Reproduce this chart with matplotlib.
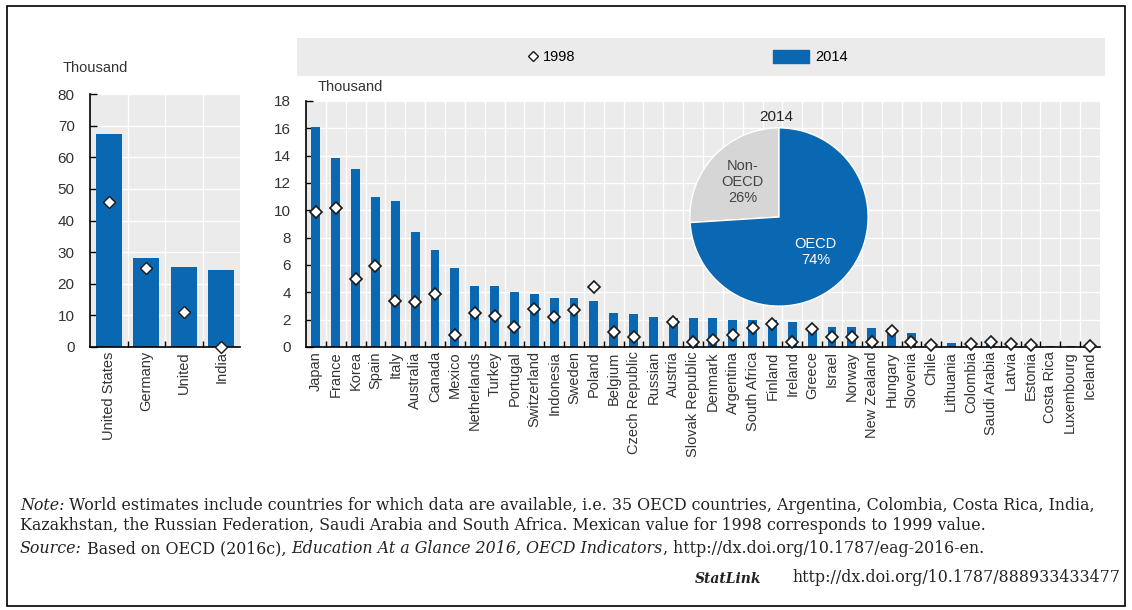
import numpy as np
import matplotlib.pyplot as plt
from matplotlib.patches import Rectangle, Patch
from matplotlib.lines import Line2D
from matplotlib.ticker import MultipleLocator, FixedLocator

# left panel: biggest countries (thousand)
big_countries = ['United States', 'Germany', 'United', 'India']
big_2014 = [67.5, 28.0, 25.2, 24.5]
big_1998 = [46.0, 25.0, 11.0, 0.0]

# right panel
countries = ['Japan', 'France', 'Korea', 'Spain', 'Italy', 'Australia', 'Canada',
             'Mexico', 'Netherlands', 'Turkey', 'Portugal', 'Switzerland',
             'Indonesia', 'Sweden', 'Poland', 'Belgium', 'Czech Republic',
             'Russian', 'Austria', 'Slovak Republic', 'Denmark', 'Argentina',
             'South Africa', 'Finland', 'Ireland', 'Greece', 'Israel', 'Norway',
             'New Zealand', 'Hungary', 'Slovenia', 'Chile', 'Lithuania',
             'Colombia', 'Saudi Arabia', 'Latvia', 'Estonia', 'Costa Rica',
             'Luxembourg', 'Iceland']
val_2014 = [16.1, 13.8, 13.0, 11.0, 10.7, 8.4, 7.1, 5.8, 4.5, 4.5, 4.0, 3.9,
            3.6, 3.6, 3.4, 2.5, 2.4, 2.2, 2.1, 2.1, 2.1, 2.0, 2.0, 1.95, 1.8,
            1.55, 1.5, 1.45, 1.4, 1.4, 1.0, 0.3, 0.3, 0.25, 0.2, 0.15, 0.12,
            0.08, 0.05, 0.04]
val_1998 = [9.9, 10.2, 5.0, 5.9, 3.4, 3.3, 3.9, 0.9, 2.5, 2.3, 1.5, 2.8,
            2.2, 2.7, 4.4, 1.1, 0.7, np.nan, 1.8, 0.4, 0.5, 0.9, 1.4, 1.7, 0.4,
            1.3, 0.7, 0.7, 0.4, 1.2, 0.35, 0.15, np.nan, 0.2, 0.4, 0.25, 0.15,
            np.nan, np.nan, 0.05]

pie_labels = ['Non-\nOECD\n26%', 'OECD\n74%']
pie_share = [26, 74]

blue = '#0a67b2'
bg = '#ebebeb'
W, H = 1132, 610

def box(x0, y0, x1, y1):
    # pixel box (top-left origin) -> figure fraction
    return [x0 / W, (H - y1) / H, (x1 - x0) / W, (y1 - y0) / H]

plt.rcParams['font.family'] = ['Liberation Sans', 'DejaVu Sans']
fig = plt.figure(figsize=(W / 100, H / 100), dpi=100)

def style_axes(ax, n, ymax, ystep):
    ax.set_facecolor(bg)
    ax.set_xlim(-0.5, n - 0.5)
    ax.set_ylim(0, ymax)
    ax.yaxis.set_major_locator(MultipleLocator(ystep))
    ax.xaxis.set_major_locator(FixedLocator(np.arange(n)))
    ax.xaxis.set_minor_locator(FixedLocator(np.arange(n - 1) + 0.5))
    ax.grid(which='major', axis='y', color='white', lw=1.0)
    ax.grid(which='minor', axis='x', color='white', lw=1.0)
    ax.set_axisbelow(True)
    for s in ['top', 'right']:
        ax.spines[s].set_visible(False)
    for s in ['left', 'bottom']:
        ax.spines[s].set_color('black')
        ax.spines[s].set_linewidth(1.2)
    ax.tick_params(axis='x', which='major', length=0, pad=3, labelsize=10.5,
                   labelrotation=90, labelcolor='#333333')
    ax.tick_params(axis='x', which='minor', direction='in', length=4, width=1)
    ax.tick_params(axis='y', direction='in', length=5, width=1, pad=11,
                   labelsize=11, labelcolor='#333333')

# left panel
ax1 = fig.add_axes(box(90, 94, 240, 347))
x1 = np.arange(len(big_countries))
ax1.bar(x1, big_2014, width=0.7, color=blue, zorder=2)
ax1.plot(x1, big_1998, ls='none', marker='D', ms=6, mfc='white', mec='#1a1a1a',
         mew=1.0, zorder=3, clip_on=False)
style_axes(ax1, len(big_countries), 80, 10)
ax1.set_xticklabels(big_countries, va='top')
fig.text(63 / W, 1 - 68 / H, 'Thousand', fontsize=10.5, color='#333333', va='center')

# right panel
ax2 = fig.add_axes(box(306, 101, 1100, 347))
x2 = np.arange(len(countries))
ax2.bar(x2, val_2014, width=0.45, color=blue, zorder=2)
ax2.plot(x2, val_1998, ls='none', marker='D', ms=6, mfc='white', mec='#1a1a1a',
         mew=1.2, zorder=3, clip_on=False)
style_axes(ax2, len(countries), 18, 2)
ax2.set_xticklabels(countries, va='top')
fig.text(318 / W, 1 - 87 / H, 'Thousand', fontsize=10.5, color='#333333', va='center')

# pie inset
axp = fig.add_axes(box(689, 127, 869, 307))
wedges, _ = axp.pie(pie_share, colors=['#d6d6d6', blue], startangle=90,
                    counterclock=True, radius=1.0,
                    wedgeprops=dict(edgecolor='white', linewidth=1))
for w, lab, col in zip(wedges, pie_labels, ['#444444', 'white']):
    ang = np.deg2rad((w.theta1 + w.theta2) / 2)
    axp.text(0.56 * np.cos(ang), 0.57 * np.sin(ang), lab, ha='center', va='center',
             fontsize=10.5, color=col, linespacing=1.2)
axp.set_aspect('equal')
axp.set_xlim(-1.01, 1.01)
axp.set_ylim(-1.01, 1.01)
fig.text(776 / W, 1 - 117 / H, '2014', fontsize=11, color='#222222',
         ha='center', va='center')

# legend band
axl = fig.add_axes(box(297, 38, 1105, 76))
axl.set_facecolor(bg)
axl.set_xticks([])
axl.set_yticks([])
for s in axl.spines.values():
    s.set_visible(False)
h1 = Line2D([], [], ls='none', marker='D', ms=5, mfc='white', mec='#1a1a1a', mew=1)
leg1 = axl.legend([h1], ['1998'], loc='center', bbox_to_anchor=(0.315, 0.5),
                  frameon=False, fontsize=10.5, handlelength=0.8, handletextpad=0.3)
axl.add_artist(leg1)
h2 = Patch(color=blue)
axl.legend([h2], ['2014'], loc='center', bbox_to_anchor=(0.635, 0.5),
           frameon=False, fontsize=10.5, handlelength=2.5, handleheight=1.0,
           handletextpad=0.4)

# notes
axn = fig.add_axes([0, 0, 1, 1])
axn.set_axis_off()
axn.set_xlim(0, W)
axn.set_ylim(H, 0)
serif = dict(family='DejaVu Serif', fontsize=11.4, color='#222222')

def chain(parts, x, y):
    prev = None
    for txt, style in parts:
        if prev is None:
            prev = axn.text(x, y, txt, style=style, va='baseline', ha='left', **serif)
        else:
            prev = axn.annotate(txt, xy=(1, 0), xycoords=prev, va='bottom', ha='left',
                                style=style, annotation_clip=False, **serif)
    return prev

chain([('Note:', 'italic'),
       (' World estimates include countries for which data are available, i.e. 35 OECD '
        'countries, Argentina, Colombia, Costa Rica, India,', 'normal')], 20, 510)
axn.text(20, 530, 'Kazakhstan, the Russian Federation, Saudi Arabia and South Africa. '
         'Mexican value for 1998 corresponds to 1999 value.', va='baseline', **serif)
chain([('Source:', 'italic'), (' Based on OECD (2016c), ', 'normal'),
       ('Education At a Glance 2016, OECD Indicators', 'italic'),
       (', http://dx.doi.org/10.1787/eag-2016-en.', 'normal')], 20, 553)
url = axn.text(1120, 582, 'http://dx.doi.org/10.1787/888933433477', ha='right',
               va='baseline', **serif)
axn.annotate('StatLink', xy=(0, 0), xycoords=url, xytext=(-22, 0),
             textcoords='offset points', ha='right', va='bottom',
             family='DejaVu Serif', fontsize=10, style='italic', weight='bold',
             color='#222222', annotation_clip=False)
axn.add_patch(Rectangle((7, 6), 1118, 600, fill=False, ec='black', lw=1.2))

fig.savefig('out.png', dpi=100)
